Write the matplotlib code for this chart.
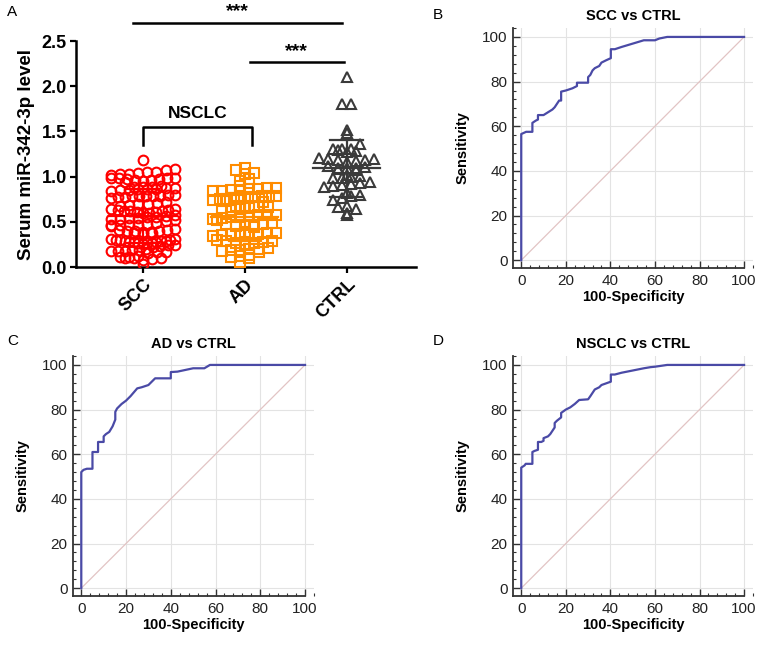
import numpy as np
import matplotlib
matplotlib.use("Agg")
import matplotlib.pyplot as plt
from matplotlib.ticker import MultipleLocator

plt.rcParams['font.family'] = ['Liberation Sans', 'DejaVu Sans']

# panel A: serum miR-342-3p levels per group
groups = ['SCC', 'AD', 'CTRL']
scc = [1.18,
       1.08, 1.07, 1.05, 1.04, 1.03, 1.02, 1.05, 1.03,
       0.99, 0.98, 0.97, 0.96, 0.95, 0.97, 0.98, 0.96, 0.94, 0.99,
       0.90, 0.88, 0.87, 0.86, 0.85, 0.88, 0.87, 0.86, 0.84, 0.89, 0.85, 0.86,
       0.80, 0.79, 0.78, 0.77, 0.78, 0.79, 0.80, 0.76, 0.78, 0.77,
       0.70, 0.72, 0.68, 0.71, 0.69, 0.70,
       0.64, 0.63, 0.62, 0.61, 0.60, 0.63, 0.62, 0.64, 0.61, 0.60, 0.62,
       0.55, 0.54, 0.53, 0.56, 0.52, 0.55, 0.54, 0.53, 0.57, 0.51,
       0.48, 0.47, 0.46, 0.45, 0.49, 0.47, 0.46,
       0.41, 0.40, 0.39, 0.38, 0.40, 0.41, 0.39, 0.38, 0.42, 0.40, 0.37,
       0.31, 0.30, 0.29, 0.28, 0.30, 0.29, 0.31, 0.28, 0.27, 0.30, 0.29, 0.26, 0.28, 0.27,
       0.24, 0.23, 0.25, 0.22, 0.24,
       0.19, 0.18, 0.17, 0.19, 0.18, 0.16, 0.20, 0.17, 0.18,
       0.11, 0.10, 0.09, 0.12, 0.10, 0.11, 0.08, 0.10,
       0.03]
ad = [1.10, 1.07, 1.04, 1.03,
      0.97, 0.93, 0.90, 0.95,
      0.87, 0.86, 0.85, 0.84, 0.86, 0.85, 0.87, 0.84,
      0.78, 0.77, 0.76, 0.75, 0.79, 0.78, 0.76, 0.77, 0.74, 0.75, 0.73, 0.72,
      0.68, 0.67, 0.66, 0.65, 0.64, 0.66, 0.63, 0.67, 0.62,
      0.58, 0.57, 0.56, 0.55, 0.54, 0.57, 0.53, 0.55, 0.52,
      0.49, 0.48, 0.47, 0.46, 0.48, 0.45, 0.44, 0.47,
      0.39, 0.38, 0.37, 0.36, 0.38, 0.35, 0.37, 0.34, 0.36,
      0.30, 0.29, 0.28, 0.27, 0.26, 0.29, 0.25,
      0.21, 0.20, 0.19, 0.18, 0.20, 0.19, 0.17,
      0.13, 0.12, 0.11, 0.10,
      0.05]
ctrl = [2.10, 1.80, 1.80, 1.52, 1.48, 1.36,
        1.30, 1.29, 1.28, 1.30, 1.27, 1.31,
        1.20, 1.19, 1.18, 1.17, 1.21, 1.18, 1.16,
        1.10, 1.09, 1.11, 1.08, 1.12, 1.07, 1.10,
        1.02, 1.00, 0.99, 1.01, 0.98,
        0.93, 0.92, 0.91, 0.90, 0.94, 0.89,
        0.82, 0.80, 0.78, 0.76, 0.74,
        0.68, 0.66, 0.64,
        0.60, 0.58]

# ROC curves (100-specificity, sensitivity)
scc_fpr = [0, 0, 2.2, 5, 5, 6.5, 7.5, 7.5, 10, 14, 15, 16, 17, 17.9, 17.9, 20, 23, 25, 25,
           30, 30, 31, 32, 33, 35, 36, 38, 40.2, 40.2, 42, 45, 50, 55, 60, 62, 65.5, 100]
scc_tpr = [0, 56.5, 57.5, 57.5, 61.5, 62.5, 63, 65, 65, 67.5, 68.5, 70, 71.5, 71.5, 75.5, 76, 77, 78, 79.5,
           79.5, 82, 83, 85, 86, 87, 88.5, 89.5, 90.5, 94.5, 94.5, 95.5, 97, 98.5, 98.5, 99.3, 100, 100]
ad_fpr = [0, 0, 1, 2.5, 5, 5, 7.5, 7.5, 10, 10, 11, 12.5, 14, 15.2, 15.2, 16, 18, 20, 22, 25,
          27, 30, 32, 33, 40, 40, 43, 50, 55, 57.5, 100]
ad_tpr = [0, 52, 53, 53.5, 53.5, 61, 61, 65.5, 65.5, 68, 69, 70, 72.5, 75.5, 79, 80.5, 82.5, 84, 86, 89.5,
          90, 91, 93, 94, 94, 96.8, 97, 98.5, 98.5, 100, 100]
ns_fpr = [0, 0, 1.5, 2, 5, 5, 6, 7.5, 7.5, 9, 10, 10, 12, 13, 14, 15, 15, 16, 17.9, 17.9, 20, 22, 24,
          26, 30, 31, 33, 35, 36, 40.2, 40.2, 42, 45, 50, 55, 58, 60, 65.5, 100]
ns_tpr = [0, 54, 55, 55.7, 55.7, 61, 61.5, 62, 65.5, 65.5, 66, 67.2, 68, 69, 70.5, 72, 74, 75, 76.5, 78.5,
          80, 81, 82.5, 84.3, 84.6, 86, 89, 90, 91, 92.5, 95.7, 95.7, 96.5, 97.5, 98.5, 99, 99.2, 100, 100]

W, H = 766, 646
fig = plt.figure(figsize=(W / 100, H / 100), dpi=100)


def rect(l, t, r, b):
    return [l / W, 1 - b / H, (r - l) / W, (b - t) / H]


def swarm_x(vals, center, step=0.07, dx=0.09, half=0.31):
    # spread points of similar value side by side, like a column scatter
    vals = np.asarray(vals)
    xs = np.zeros(len(vals))
    bins = np.round(vals / step).astype(int)
    for b in np.unique(bins):
        idx = np.where(bins == b)[0]
        idx = idx[np.argsort(vals[idx])]
        n = len(idx)
        d = dx if n < 2 else min(dx, 2 * half / (n - 1))
        if n % 2 == 0:
            offs = np.arange(n) - (n - 1) / 2
        else:
            # alternate left/right so the row grows from the middle
            offs = np.array([((k + 1) // 2) * (1 if k % 2 else -1) for k in range(n)], float)
        xs[idx] = center + offs * d
    return xs


# ---------- panel A ----------
ax = fig.add_axes(rect(76, 41, 416, 267))
data = [scc, ad, ctrl]
colors = ['#ff0000', '#ff8c00', '#3a3a3a']
markers = ['o', 's', '^']
sizes = [7, 7.5, 7.5]
for i, vals in enumerate(data):
    xs = swarm_x(vals, i)
    ax.plot(xs, vals, linestyle='none', marker=markers[i], ms=sizes[i],
            mfc='none', mec=colors[i], mew=1.5, zorder=3)
    m, sd = np.mean(vals), np.std(vals, ddof=1)
    ax.plot([i - 0.33, i + 0.33], [m, m], color=colors[i], lw=1.6, zorder=4)
    ax.plot([i, i], [m - sd, m + sd], color=colors[i], lw=1.6, zorder=4)
    for v in (m - sd, m + sd):
        ax.plot([i - 0.16, i + 0.16], [v, v], color=colors[i], lw=1.6, zorder=4)

ax.set_xlim(-0.657, 2.68)
ax.set_ylim(0, 2.5)
ax.set_yticks(np.arange(0, 2.51, 0.5))
ax.set_yticklabels(['%.1f' % v for v in np.arange(0, 2.51, 0.5)],
                   fontsize=13, fontweight='bold')
ax.set_xticks(range(3))
ax.set_xticklabels(groups, rotation=45, ha='right', rotation_mode='anchor',
                   fontsize=13, fontweight='bold')
ax.set_ylabel('Serum miR-342-3p level', fontsize=13.5, fontweight='bold', labelpad=5)
for s in ['top', 'right']:
    ax.spines[s].set_visible(False)
for s in ['left', 'bottom']:
    ax.spines[s].set_linewidth(1.8)
ax.tick_params(width=1.6, length=4.5, direction='out', pad=2)

# significance bars
ax.plot([-0.1, 1.95], [2.70, 2.70], color='black', lw=1.8, clip_on=False)
ax.text(0.93, 2.73, '***', ha='center', va='bottom', fontsize=14, fontweight='bold')
ax.plot([1.05, 1.97], [2.27, 2.27], color='black', lw=1.8, clip_on=False)
ax.text(1.51, 2.29, '***', ha='center', va='bottom', fontsize=14, fontweight='bold')
ax.plot([0, 0, 1.07, 1.07], [1.35, 1.55, 1.55, 1.35], color='black', lw=1.8)
ax.text(0.535, 1.62, 'NSCLC', ha='center', va='bottom', fontsize=12.5, fontweight='bold')

# ---------- ROC panels ----------
roc_panels = [
    (rect(513, 28, 753, 268), 'SCC vs CTRL', scc_fpr, scc_tpr),
    (rect(73, 356, 314, 596), 'AD vs CTRL', ad_fpr, ad_tpr),
    (rect(513, 356, 753, 596), 'NSCLC vs CTRL', ns_fpr, ns_tpr),
]
for pos, title, fx, fy in roc_panels:
    a = fig.add_axes(pos)
    a.set_xlim(-3.7, 104)
    a.set_ylim(-3.5, 104)
    a.set_xticks(range(0, 101, 20))
    a.set_yticks(range(0, 101, 20))
    a.xaxis.set_minor_locator(MultipleLocator(4))
    a.yaxis.set_minor_locator(MultipleLocator(4))
    a.grid(True, which='major', color='#e3e3e3', lw=0.8)
    a.set_axisbelow(True)
    a.plot([0, 100], [0, 100], color='#e2c4c4', lw=0.9)
    a.plot(fx, fy, color='#4a4aa6', lw=1.6)
    for s in ['top', 'right']:
        a.spines[s].set_visible(False)
    for s in ['left', 'bottom']:
        a.spines[s].set_color('#333333')
        a.spines[s].set_linewidth(1.3)
    a.spines['bottom'].set_bounds(-3.7, 100)
    a.tick_params(which='major', direction='in', length=5, width=1, colors='#333333',
                  labelsize=11, labelcolor='#222222', pad=4)
    a.tick_params(which='minor', direction='in', length=2.5, width=0.8, colors='#333333')
    a.set_xlabel('100-Specificity', fontsize=10.5, fontweight='bold', labelpad=2)
    a.set_ylabel('Sensitivity', fontsize=10.5, fontweight='bold', labelpad=9)
    a.set_title(title, fontsize=10.5, fontweight='bold', pad=6)

# panel letters
for letter, x, y in [('A', 12, 12), ('B', 438, 15), ('C', 13, 341), ('D', 438, 341)]:
    fig.text(x / W, 1 - y / H, letter, fontsize=11, ha='center', va='center')

fig.savefig('out.png', dpi=100)
